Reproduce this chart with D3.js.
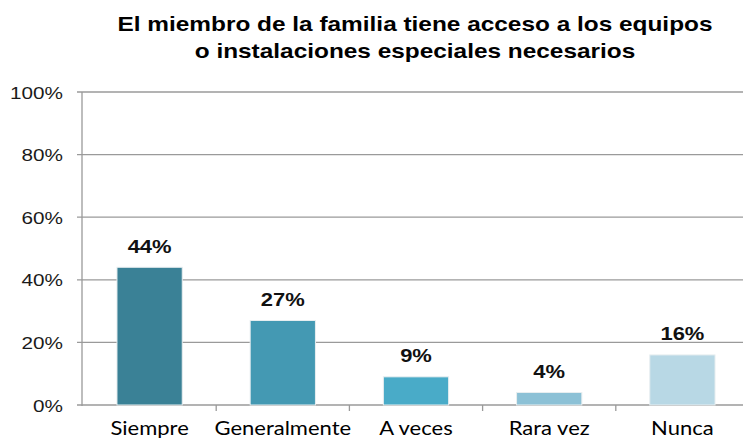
<!DOCTYPE html>
<html><head><meta charset="utf-8">
<script src="https://cdn.jsdelivr.net/npm/d3@7/dist/d3.min.js"></script>
<style>body{margin:0;background:#fff}</style>
</head><body>
<svg id="c" width="743" height="440"></svg>
<script>
const categories = ["Siempre","Generalmente","A veces","Rara vez","Nunca"];
const values = [44, 27, 9, 4, 16];
const colors = ["#3a8196","#4499b3","#49abc8","#8cc1d6","#b8d8e5"];
const yTicks = [0,20,40,60,80,100];
const titleLines = ["El miembro de la familia tiene acceso a los equipos","o instalaciones especiales necesarios"];

const svg = d3.select("#c");
const x = d3.scaleBand().domain(categories).range([83, 749]).paddingInner(0.51).paddingOuter(0.255);
const y = d3.scaleLinear().domain([0,100]).range([405, 92]);
const SX = 1.22;

// title
svg.append("g").selectAll("text").data(titleLines).join("text")
  .attr("transform",(d,i)=>`translate(415,${i?58:31}) scale(${SX},1)`)
  .attr("text-anchor","middle")
  .style("font-family","Liberation Sans, Arial").style("font-weight","bold").style("font-size","20px").attr("fill","#000")
  .text(d=>d);

// gridlines
svg.append("g").selectAll("line").data(yTicks).join("line")
  .attr("x1",77).attr("x2",743).attr("y1",d=>y(d)).attr("y2",d=>y(d))
  .attr("stroke","#9a9a9a").attr("stroke-width",1.3);

// y axis line
svg.append("line").attr("x1",82).attr("x2",82).attr("y1",y(100)).attr("y2",y(0)+1)
  .attr("stroke","#9a9a9a").attr("stroke-width",1.3);

// y labels
svg.append("g").selectAll("text").data(yTicks).join("text")
  .attr("transform",d=>`translate(63,${y(d)+6.5}) scale(${SX},1)`).attr("text-anchor","end")
  .style("font-family","Liberation Sans, Arial").style("font-size","17px").attr("fill","#1a1a1a")
  .text(d=>d+"%");

// category separators
const step = x.step();
svg.append("g").selectAll("line").data(categories.slice(1)).join("line")
  .attr("x1",d=>x(d)-x.paddingInner()*step/2).attr("x2",d=>x(d)-x.paddingInner()*step/2)
  .attr("y1",y(0)).attr("y2",y(0)+6).attr("stroke","#9a9a9a").attr("stroke-width",1.3);

// bars
svg.append("g").selectAll("rect").data(values).join("rect")
  .attr("x",(d,i)=>x(categories[i])).attr("width",x.bandwidth())
  .attr("y",d=>y(d)).attr("height",d=>y(0)-y(d))
  .attr("fill",(d,i)=>colors[i]).attr("stroke","#e8eef0").attr("stroke-width",1);

// value labels
svg.append("g").selectAll("text").data(values).join("text")
  .attr("transform",(d,i)=>`translate(${x(categories[i])+x.bandwidth()/2},${y(d)-14.5}) scale(${SX},1)`)
  .attr("text-anchor","middle")
  .style("font-family","Liberation Sans, Arial").style("font-weight","bold").style("font-size","18px").attr("fill","#111")
  .text(d=>d+"%");

// category labels
svg.append("g").selectAll("text").data(categories).join("text")
  .attr("transform",d=>`translate(${x(d)+x.bandwidth()/2},435) scale(1.1,1)`).attr("text-anchor","middle")
  .style("font-family","Lato, Carlito, sans-serif").style("font-size","20px").attr("fill","#000")
  .text(d=>d);
</script>
</body></html>
